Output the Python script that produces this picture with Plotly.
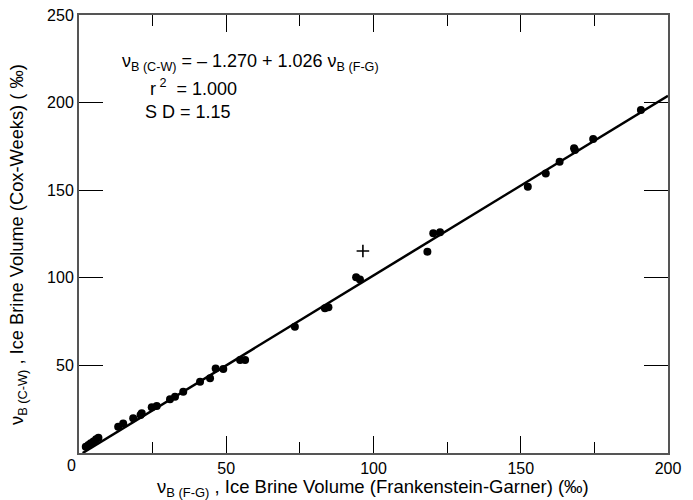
import numpy as np
import plotly.graph_objects as go

# Data
x_fg = [2.3, 3.2, 4.0, 4.9, 5.8, 6.6, 13.3, 15.0, 18.4, 20.9, 21.3, 24.7, 26.4,
        30.9, 32.6, 35.4, 41.1, 44.5, 46.4, 49.0, 54.7, 56.4, 73.3, 83.5, 84.7,
        94.1, 95.4, 118.3, 120.3, 122.6, 152.4, 158.5, 163.2, 168.1, 168.4,
        174.6, 190.8]
y_cw = [3.6, 4.6, 5.5, 6.5, 7.8, 8.7, 15.0, 16.9, 19.8, 21.7, 22.7, 26.1, 26.8,
        30.7, 32.1, 35.0, 40.7, 42.6, 48.3, 47.9, 53.1, 53.1, 72.1, 82.6, 83.2,
        100.3, 99.1, 114.9, 125.4, 126.0, 152.0, 159.6, 166.3, 173.9, 172.9,
        179.2, 195.8]
outlier_x = [96.4]
outlier_y = [115.3]

fit_intercept = -1.270
fit_slope = 1.026
fit_x_start = -fit_intercept / fit_slope
fit_x_end = 200.0

x_major_ticks = [0, 50, 100, 150, 200]
y_major_ticks = [0, 50, 100, 150, 200, 250]

FONT = "Liberation Sans, Arial, sans-serif"

fx = np.array([fit_x_start, fit_x_end])
fy = fit_intercept + fit_slope * fx

fig = go.Figure()
fig.add_trace(go.Scatter(x=fx, y=fy, mode="lines",
                         line=dict(color="black", width=2.5),
                         hoverinfo="skip", showlegend=False))
fig.add_trace(go.Scatter(x=x_fg, y=y_cw, mode="markers",
                         marker=dict(color="black", size=8, symbol="circle"),
                         showlegend=False))
fig.add_trace(go.Scatter(x=outlier_x, y=outlier_y, mode="markers",
                         marker=dict(color="black", size=9, symbol="cross-thin",
                                     line=dict(color="black", width=1.6)),
                         showlegend=False))

fig.update_layout(
    width=693, height=500,
    margin=dict(l=79, r=25, t=15, b=47),
    plot_bgcolor="white", paper_bgcolor="white",
    font=dict(family=FONT, size=16, color="black"),
    showlegend=False,
)

fig.update_xaxes(
    range=[0, 200], tickvals=x_major_ticks,
    ticktext=["", "50", "100", "150", "200"],
    ticks="inside", ticklen=17, tickwidth=1.3, tickcolor="black",
    minor=dict(dtick=25, tick0=0, ticks="inside", ticklen=11,
               tickwidth=1.3, tickcolor="black"),
    showline=True, linecolor="#555555", linewidth=2, mirror="ticks",
    showgrid=False, zeroline=False, automargin=False,
    tickfont=dict(size=16),
    title=dict(text=""),
)
fig.update_yaxes(
    range=[0, 250], tickvals=y_major_ticks,
    ticktext=["", "50", "100", "150", "200", "250"],
    ticks="inside", ticklen=24, tickwidth=1.3, tickcolor="black",
    showline=True, linecolor="#555555", linewidth=2, mirror="ticks",
    showgrid=False, zeroline=False, automargin=False,
    tickfont=dict(size=16),
    title=dict(text=""),
)

def px_to_paper(px, py):
    return (px - 79) / 589, (453 - py) / 438

# corner zero label
zx, zy = px_to_paper(71, 465)
fig.add_annotation(x=zx, y=zy, xref="paper", yref="paper", text="0",
                   showarrow=False, font=dict(size=16),
                   xanchor="center", yanchor="middle")

# axis titles
x_title = "ν<sub>B (F-G)</sub> , Ice Brine Volume (Frankenstein-Garner) (‰)"
y_title = "ν<sub>B (C-W)</sub> , Ice Brine Volume (Cox-Weeks) ( ‰)"
tx, ty = px_to_paper(373, 488)
fig.add_annotation(x=tx, y=ty, xref="paper", yref="paper", text=x_title,
                   showarrow=False, font=dict(size=18.5),
                   xanchor="center", yanchor="middle")
tx, ty = px_to_paper(18, 245)
fig.add_annotation(x=tx, y=ty, xref="paper", yref="paper", text=y_title,
                   showarrow=False, font=dict(size=18.3), textangle=-90,
                   xanchor="center", yanchor="middle")

eq_lines = [
    (120, 62, "ν<sub>B (C-W)</sub> = – 1.270 + 1.026 ν<sub>B (F-G)</sub>"),
    (148, 88, "r<sup> 2</sup>  = 1.000"),
    (143, 112, "S D = 1.15"),
]
for px, py, t in eq_lines:
    ax_, ay_ = px_to_paper(px, py)
    fig.add_annotation(x=ax_, y=ay_, xref="paper", yref="paper", text=t,
                       showarrow=False, font=dict(size=18),
                       xanchor="left", yanchor="middle")

fig.write_html("out.html")
